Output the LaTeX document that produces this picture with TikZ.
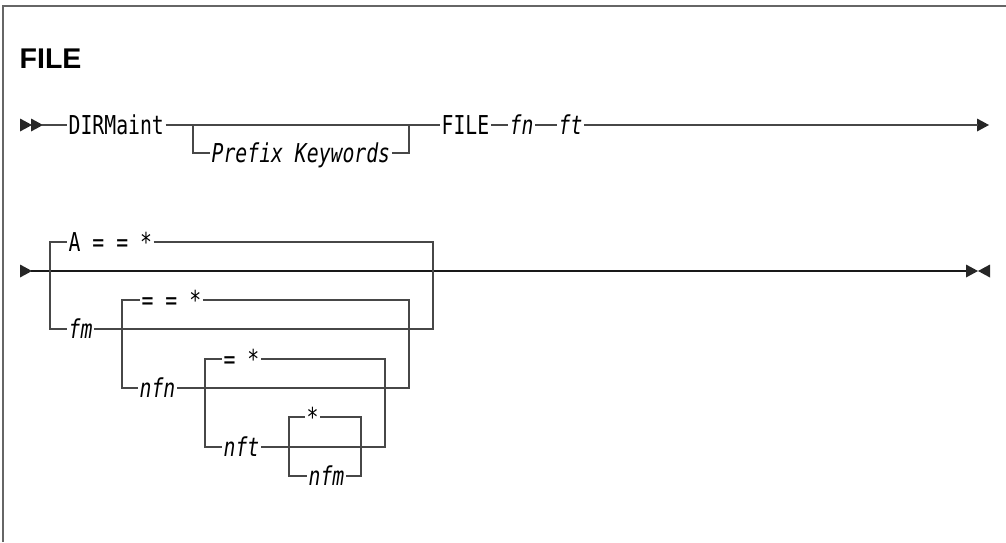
\documentclass[tikz,border=0pt]{standalone}
\usepackage{fontspec}
\usepackage{tikz}
\usetikzlibrary{positioning,calc}
\newfontfamily\synfont{DejaVu Sans Mono}[FakeStretch=0.76]
\newfontfamily\headfont{Liberation Sans}

\begin{document}
\begin{tikzpicture}[
		x=1pt, y=-1pt,
		line width=1.4pt,
		rail/.style={draw=black!72},
		kw/.style={
			anchor=west,
			inner xsep=1pt,
			inner ysep=0pt,
			text height=19pt,
			text depth=0pt,
			font=\synfont\fontsize{26}{28}\selectfont
		},
		var/.style={
			kw,
			font=\synfont\itshape\fontsize{26}{28}\selectfont
		},
		tipR/.pic={\fill[black!85] (0,-6.5) -- (12,0) -- (0,6.5) -- cycle;},
		tipL/.pic={\fill[black!85] (0,-6.5) -- (-12,0) -- (0,6.5) -- cycle;}
		]
		
		\useasboundingbox (0,0) rectangle (1006,542);
		
		% Frame and title
		\draw[black!60] (3,542) -- (3,6) -- (1006,6);
		\node[anchor=base west, inner sep=0pt, font=\headfont\bfseries\fontsize{28.5}{30}\selectfont] (title) at (19,68) {FILE};
		
		% First row
		\pic at (20,125) {tipR};
		\pic at (31,125) {tipR};
		\coordinate (r1s) at (42,125);
		\node[kw] (dirm) at (67,125) {DIRMaint};
		\coordinate (pkL) at (193,125);
		\coordinate (pkR) at (409,125);
		\node[var] (pk) at (210,153) {Prefix Keywords};
		\node[kw] (file) at (440,125) {FILE};
		\node[var] (fn) at (508,125) {fn};
		\node[var] (ft) at (557,125) {ft};
		\coordinate (r1e) at (978,125);
		\pic at (977,125) {tipR};
		
		\draw[rail] (r1s) -- (dirm.west);
		\draw[rail] (dirm.east) -- (file.west);
		\draw[rail] (pkL) |- (pk.west);
		\draw[rail] (pk.east) -| (pkR);
		\draw[rail] (file.east) -- (fn.west);
		\draw[rail] (fn.east) -- (ft.west);
		\draw[rail] (ft.east) -- (r1e);
		
		% Second row
		\pic at (20,271) {tipR};
		\coordinate (r2s) at (31,271);
		\coordinate (r2e) at (966,271);
		\pic at (966,271) {tipR};
		\pic at (990,271) {tipL};
		\draw[black!90] (r2s) -- (r2e);
		
		% fm
		\coordinate (gA) at (50,271);
		\coordinate (gB) at (433,271);
		\node[kw] (defA) at (67,242) {A = = *};
		\node[var] (fm) at (67,329) {fm};
		\draw[rail] (gA) |- (defA.west);
		\draw[rail] (defA.east) -| (gB);
		\draw[rail] (gA) |- (fm.west);
		\draw[rail] (fm.east) -| (gB);
		
		% nfn
		\coordinate (gC) at (122,329);
		\coordinate (gD) at (409,329);
		\node[kw] (defN) at (140,300) {= = *};
		\node[var] (nfn) at (138,388) {nfn};
		\draw[rail] (gC) |- (defN.west);
		\draw[rail] (defN.east) -| (gD);
		\draw[rail] (gC) |- (nfn.west);
		\draw[rail] (nfn.east) -| (gD);
		
		% nft
		\coordinate (gE) at (205,388);
		\coordinate (gF) at (385,388);
		\node[kw] (defT) at (222,359) {= *};
		\node[var] (nft) at (222,447) {nft};
		\draw[rail] (gE) |- (defT.west);
		\draw[rail] (defT.east) -| (gF);
		\draw[rail] (gE) |- (nft.west);
		\draw[rail] (nft.east) -| (gF);
		
		% nfm
		\coordinate (gG) at (289,447);
		\coordinate (gH) at (361,447);
		\node[kw] (defM) at (305,417) {*};
		\node[var] (nfm) at (307,476) {nfm};
		\draw[rail] (gG) |- (defM.west);
		\draw[rail] (defM.east) -| (gH);
		\draw[rail] (gG) |- (nfm.west);
		\draw[rail] (nfm.east) -| (gH);
		
	\end{tikzpicture}
\end{document}
